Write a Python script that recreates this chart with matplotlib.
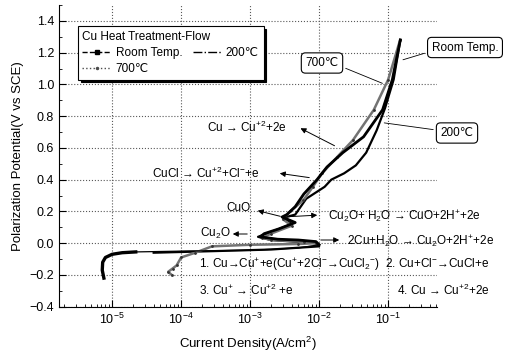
import matplotlib
matplotlib.use("Agg")
import matplotlib.pyplot as plt
from matplotlib.lines import Line2D
from matplotlib.ticker import LogLocator, MultipleLocator

plt.rcParams['font.family'] = ['Liberation Sans', 'DejaVu Sans']
plt.rcParams['mathtext.fontset'] = 'custom'
plt.rcParams['mathtext.rm'] = 'Liberation Sans'
plt.rcParams['mathtext.it'] = 'Liberation Sans'

# Room temp. (current density A/cm2, potential V vs SCE)
rt_i = [7.6e-6, 7.2e-6, 7.3e-6, 8e-6, 1e-5, 1.4e-5, 2.2e-5,
        1e-4, 1e-3, 5e-3, 1e-2,
        9e-3, 5e-3, 2.5e-3, 1.4e-3, 1.6e-3, 2.6e-3, 4.5e-3, 2.9e-3, 3.4e-3,
        4.5e-3, 6e-3, 9.3e-3, 1.3e-2, 2.2e-2, 4.4e-2, 8.3e-2, 1.15e-1, 1.5e-1]
rt_E = [-0.22, -0.17, -0.12, -0.09, -0.07, -0.06, -0.055,
        -0.05, -0.045, -0.03, -0.01,
        0.01, 0.02, 0.025, 0.04, 0.06, 0.09, 0.13, 0.165, 0.18,
        0.23, 0.31, 0.40, 0.48, 0.57, 0.67, 0.84, 1.03, 1.28]

# 200 C
h2_i = [4e-5, 3e-4, 2e-3, 1e-2, 9e-3, 2e-3, 1.3e-3, 2e-3, 4e-3, 3e-3, 4.5e-3,
        6.5e-3, 1.2e-2, 1.5e-2, 2.3e-2, 3.4e-2, 4.8e-2, 6.8e-2, 9e-2, 1.2e-1, 1.5e-1]
h2_E = [-0.06, -0.05, -0.04, -0.02, 0.0, 0.02, 0.04, 0.07, 0.12, 0.16, 0.18,
        0.28, 0.355, 0.40, 0.44, 0.49, 0.57, 0.71, 0.85, 1.03, 1.28]

# 700 C
h7_i = [7.3e-5, 6.5e-5, 7.5e-5, 8.6e-5, 1e-4, 1.6e-4, 2.8e-4, 1e-3, 5e-3, 9e-3,
        6e-3, 2e-3, 1.5e-3, 2e-3, 4e-3, 3e-3, 3.8e-3, 5.9e-3, 8.1e-3, 1.1e-2,
        1.8e-2, 3.1e-2, 6.2e-2, 1e-1, 1.49e-1]
h7_E = [-0.2, -0.18, -0.16, -0.14, -0.09, -0.06, -0.02, -0.01, -0.005, 0.0,
        0.01, 0.02, 0.035, 0.06, 0.11, 0.15, 0.2, 0.27, 0.355, 0.44,
        0.54, 0.65, 0.84, 1.03, 1.28]

xticks = [1e-5, 1e-4, 1e-3, 1e-2, 1e-1]


def fp(x, y):
    # image pixel -> figure fraction
    return (x / 516, 1 - y / 356)


fig = plt.figure(figsize=(5.16, 3.56), dpi=100)
ax = fig.add_axes([59 / 516, 1 - 306.7 / 356, (437 - 59) / 516, (306.7 - 5) / 356])

ax.plot(rt_i, rt_E, color='black', lw=0.9, zorder=4)
ax.plot(rt_i[:7], rt_E[:7], color='black', lw=2.4, zorder=4)
ax.plot(rt_i[10:], rt_E[10:], color='black', lw=2.0, zorder=4)
ax.plot(h2_i, h2_E, color='black', lw=1.6, zorder=3)
ax.plot(h7_i, h7_E, color='0.45', lw=1.8, marker='.', ms=2, mfc='0.2', mec='0.2', zorder=3)

ax.set_xscale('log')
ax.set_xlim(1.7e-6, 0.51)
ax.set_ylim(-0.4, 1.5)
ax.set_xticks(xticks)
ax.xaxis.set_minor_locator(LogLocator(base=10, subs=range(2, 10), numticks=20))
ax.yaxis.set_minor_locator(MultipleLocator(0.1))
ax.set_yticks([-0.4, -0.2, 0.0, 0.2, 0.4, 0.6, 0.8, 1.0, 1.2, 1.4])
ax.tick_params(which='both', direction='in', labelsize=9)
ax.tick_params(which='major', length=5)
ax.tick_params(which='minor', length=2.5)
ax.grid(True, which='major', color='0.35', ls=':', lw=0.8)
for s in ['top', 'right']:
    ax.spines[s].set_visible(False)

ax.set_xlabel('Current Density(A/cm$^2$)', fontsize=9.5, labelpad=6)
ax.set_ylabel('Polarization Potential(V vs SCE)', fontsize=9.5)

handles = [
    Line2D([], [], color='black', ls='--', marker='s', ms=2.5, lw=1),
    Line2D([], [], color='0.3', ls=':', marker='.', ms=3, lw=1),
    Line2D([], [], color='black', ls='-.', lw=1),
]
leg = ax.legend(handles, ['Room Temp.', '700℃', '200℃'], ncol=2, title='Cu Heat Treatment-Flow',
                loc='upper left', bbox_to_anchor=(0.034, 0.95), fontsize=8.5, title_fontsize=8.5,
                alignment='left', frameon=True, fancybox=False, shadow={'color': 'black', 'alpha': 1},
                handlelength=2.4, handletextpad=0.4, columnspacing=0.9, borderpad=0.4,
                labelspacing=0.35)
leg.get_frame().set_edgecolor('black')
leg.get_frame().set_linewidth(0.8)

box = dict(boxstyle='round,pad=0.35', fc='white', ec='black', lw=0.8)
ax.annotate('Room Temp.', xy=(0.15, 1.15), xytext=fp(465, 47.5), textcoords='figure fraction',
            ha='center', va='center', fontsize=8.5, bbox=box,
            arrowprops=dict(arrowstyle='-', lw=0.6, relpos=(0, 0.2)), zorder=6)
ax.annotate('700℃', xy=(0.09, 1.0), xytext=fp(322, 63), textcoords='figure fraction',
            ha='center', va='center', fontsize=8.5, bbox=box,
            arrowprops=dict(arrowstyle='-', lw=0.6, relpos=(1, 0.3)), zorder=6)
ax.annotate('200℃', xy=(0.08, 0.76), xytext=fp(457, 133), textcoords='figure fraction',
            ha='center', va='center', fontsize=8.5, bbox=box,
            arrowprops=dict(arrowstyle='-', lw=0.6, relpos=(0, 0.7)), zorder=6)

txt = dict(fontsize=8.5, ha='left', va='center')
fig.text(*fp(207, 127), 'Cu → Cu$^{+2}$+2e', **txt)
fig.text(*fp(152, 173), 'CuCl → Cu$^{+2}$+Cl$^{-}$+e', **txt)
fig.text(*fp(226, 208), 'CuO', **txt)
fig.text(*fp(200, 233), 'Cu$_2$O', **txt)
fig.text(*fp(328, 216), 'Cu$_2$O+ H$_2$O → CuO+2H$^{+}$+2e', **txt)
fig.text(*fp(347, 241), '2Cu+H$_2$O → Cu$_2$O+2H$^{+}$+2e', **txt)
fig.text(*fp(199, 265), '1. Cu→Cu$^{+}$+e(Cu$^{+}$+2Cl$^{-}$→CuCl$_2$$^{-}$)  2. Cu+Cl$^{-}$→CuCl+e', **txt)
fig.text(*fp(199, 290), '3. Cu$^{+}$ → Cu$^{+2}$ +e', **txt)
fig.text(*fp(397, 290), '4. Cu → Cu$^{+2}$+2e', **txt)

arrows = [((337, 147), (298, 127)), ((312, 178), (277, 173)), ((283, 217), (255, 210)),
          ((283, 217), (320, 215)), ((250, 234), (230, 234)), ((318, 240), (342, 240))]
for tail, head in arrows:
    fig.add_artist(matplotlib.patches.FancyArrowPatch(
        fp(*tail), fp(*head), transform=fig.transFigure, arrowstyle='-|>',
        mutation_scale=8, lw=0.7, color='black'))

fig.savefig('out.png', dpi=100)
